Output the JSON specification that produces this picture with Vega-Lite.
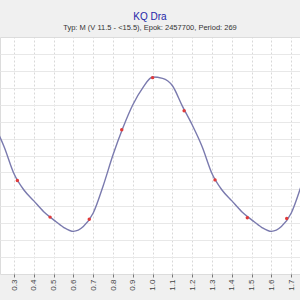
{
  "$schema": "https://vega.github.io/schema/vega-lite/v6.json",
  "autosize": {"type": "none"},
  "padding": {"left": 0, "top": 37, "right": 0, "bottom": 26},
  "width": 300,
  "height": 237,
  "background": "#f0f0f0",
  "config": {
    "view": {"fill": "white", "stroke": "#dcdcdc"},
    "font": "Liberation Sans"
  },
  "title": {
    "text": "KQ Dra",
    "subtitle": "Typ: M (V 11.5 - <15.5), Epok: 2457700, Period: 269",
    "anchor": "middle",
    "font": "Liberation Sans",
    "fontSize": 10,
    "fontWeight": "normal",
    "color": "#1f1fa8",
    "subtitleFont": "Liberation Sans",
    "subtitleFontSize": 7.5,
    "subtitleColor": "#333333",
    "subtitlePadding": 2,
    "offset": 6
  },
  "datasets": {
    "curve": [
      {"phase": 0.20, "mag": 12.80}, {"phase": 0.25, "mag": 13.12}, {"phase": 0.30, "mag": 13.52},
      {"phase": 0.35, "mag": 13.76}, {"phase": 0.40, "mag": 13.92}, {"phase": 0.45, "mag": 14.08},
      {"phase": 0.50, "mag": 14.20}, {"phase": 0.55, "mag": 14.31}, {"phase": 0.60, "mag": 14.37},
      {"phase": 0.65, "mag": 14.30}, {"phase": 0.70, "mag": 14.10}, {"phase": 0.75, "mag": 13.70},
      {"phase": 0.80, "mag": 13.24}, {"phase": 0.85, "mag": 12.84}, {"phase": 0.90, "mag": 12.50},
      {"phase": 0.95, "mag": 12.25}, {"phase": 1.00, "mag": 12.09}, {"phase": 1.05, "mag": 12.11},
      {"phase": 1.10, "mag": 12.22}, {"phase": 1.15, "mag": 12.52}, {"phase": 1.20, "mag": 12.80},
      {"phase": 1.25, "mag": 13.12}, {"phase": 1.30, "mag": 13.52}, {"phase": 1.35, "mag": 13.76},
      {"phase": 1.40, "mag": 13.92}, {"phase": 1.45, "mag": 14.08}, {"phase": 1.50, "mag": 14.20},
      {"phase": 1.55, "mag": 14.31}, {"phase": 1.60, "mag": 14.37}, {"phase": 1.65, "mag": 14.30},
      {"phase": 1.70, "mag": 14.10}, {"phase": 1.75, "mag": 13.70}, {"phase": 1.80, "mag": 13.24}
    ],
    "obs": [
      {"phase": 0.317, "mag": 13.62}, {"phase": 0.482, "mag": 14.16}, {"phase": 0.680, "mag": 14.19},
      {"phase": 0.844, "mag": 12.87}, {"phase": 1.000, "mag": 12.10}, {"phase": 1.159, "mag": 12.59},
      {"phase": 1.315, "mag": 13.61}, {"phase": 1.478, "mag": 14.17}, {"phase": 1.677, "mag": 14.18}
    ]
  },
  "encoding": {
    "x": {
      "field": "phase", "type": "quantitative",
      "scale": {"domain": [0.2293, 1.744], "nice": false, "zero": false},
      "axis": {
        "values": [0.3, 0.4, 0.5, 0.6, 0.7, 0.8, 0.9, 1.0, 1.1, 1.2, 1.3, 1.4, 1.5, 1.6, 1.7],
        "format": ".1f", "labelAngle": -90, "labelFontSize": 8, "labelColor": "#444444",
        "labelFont": "Liberation Sans", "tickColor": "#777777", "tickSize": 3, "labelPadding": 2,
        "domain": false, "grid": true, "gridDash": [2, 2], "gridColor": "#d8d8d8", "title": null
      }
    },
    "y": {
      "field": "mag", "type": "quantitative",
      "scale": {"domain": [11.5, 15], "reverse": true, "nice": false, "zero": false},
      "axis": {
        "values": [11.75, 12, 12.25, 12.5, 12.75, 13, 13.25, 13.5, 13.75, 14, 14.25, 14.5, 14.75],
        "labels": false, "ticks": false, "domain": false, "grid": true, "gridColor": "#e8e8e8", "title": null
      }
    }
  },
  "layer": [
    {
      "data": {"name": "curve"},
      "mark": {"type": "line", "color": "#7a7aae", "strokeWidth": 1.4, "interpolate": "monotone", "clip": true}
    },
    {
      "data": {"name": "obs"},
      "mark": {"type": "point", "filled": true, "color": "#e03a3a", "size": 12, "opacity": 1}
    }
  ]
}
